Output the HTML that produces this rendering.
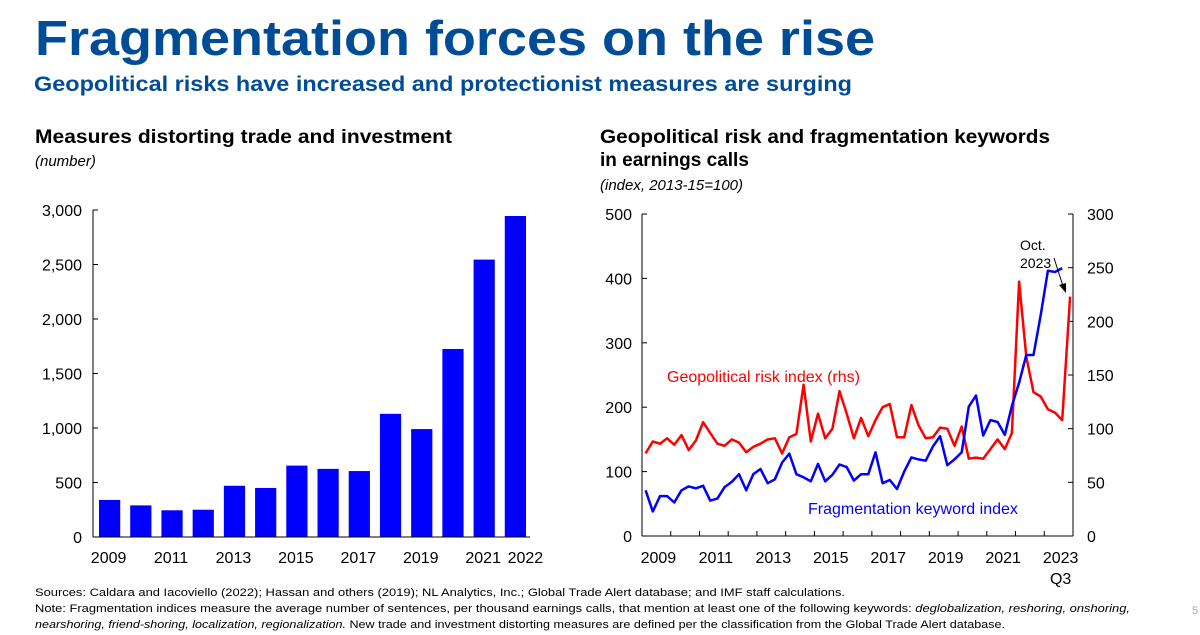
<!DOCTYPE html>
<html><head><meta charset="utf-8"><style>
html,body{margin:0;padding:0;background:#fff;width:1200px;height:635px;overflow:hidden}
svg{display:block;font-family:"Liberation Sans",Arial,sans-serif}
</style></head><body>
<svg id="s" width="1200" height="635" viewBox="0 0 1200 635" xmlns="http://www.w3.org/2000/svg">
<text x="35" y="55" font-size="49" font-weight="bold" fill="#004c97" textLength="840" lengthAdjust="spacingAndGlyphs">Fragmentation forces on the rise</text>
<text x="34" y="91" font-size="21" font-weight="bold" fill="#004c97" textLength="818" lengthAdjust="spacingAndGlyphs">Geopolitical risks have increased and protectionist measures are surging</text>
<text x="35" y="143" font-size="19" font-weight="bold" fill="#000" textLength="417" lengthAdjust="spacingAndGlyphs">Measures distorting trade and investment</text>
<text x="35" y="166" font-size="15" font-style="italic" fill="#000">(number)</text>
<text x="600" y="143" font-size="19" font-weight="bold" fill="#000" textLength="450" lengthAdjust="spacingAndGlyphs">Geopolitical risk and fragmentation keywords</text>
<text x="600" y="166" font-size="19" font-weight="bold" fill="#000">in earnings calls</text>
<text x="600" y="190" font-size="15" font-style="italic" fill="#000">(index, 2013-15=100)</text>
<g id="left"></g>
<g id="right"></g>
<text x="35" y="596" font-size="11" fill="#000" textLength="810" lengthAdjust="spacingAndGlyphs">Sources: Caldara and Iacoviello (2022); Hassan and others (2019); NL Analytics, Inc.; Global Trade Alert database; and IMF staff calculations.</text>
<text x="35" y="612" font-size="11" fill="#000" textLength="1095" lengthAdjust="spacingAndGlyphs">Note: Fragmentation indices measure the average number of sentences, per thousand earnings calls, that mention at least one of the following keywords: <tspan font-style="italic">deglobalization, reshoring, onshoring,</tspan></text>
<text x="35" y="628" font-size="11" fill="#000" textLength="970" lengthAdjust="spacingAndGlyphs"><tspan font-style="italic">nearshoring, friend-shoring, localization, regionalization.</tspan> New trade and investment distorting measures are defined per the classification from the Global Trade Alert database.</text>
<text x="1192" y="614" font-size="11" fill="#aaa">5</text>
</svg>
<script>
const NS="http://www.w3.org/2000/svg";
function mk(p,tag,at,txt){const e=document.createElementNS(NS,tag);for(const k in at)e.setAttribute(k,at[k]);if(txt!==undefined)e.textContent=txt;p.appendChild(e);return e;}

// Left chart data
const barYears=["2009","2010","2011","2012","2013","2014","2015","2016","2017","2018","2019","2020","2021","2022"];
const barValues=[340,290,245,250,470,450,655,625,605,1130,990,1725,2545,2945];
const leftTicks=[0,500,1000,1500,2000,2500,3000];
const leftTickLabels=["0","500","1,000","1,500","2,000","2,500","3,000"];
const leftXLabels=["2009","","2011","","2013","","2015","","2017","","2019","","2021","2022"];

// Right chart data (quarterly, 2009Q1 onward)
const fragValues=[71,38,62,62,52,71,77,74,78,55,58,76,84,96,71,96,104,82,88,114,128,96,91,85,112,85,95,111,107,86,96,96,130,82,87,73,100,122,119,117,139,155,110,119,130,201,218,156,180,177,157,202,238,281,281,343,412,410,416];
const geoValues=[77,88,86,91,85,94,80,89,106,96,86,84,90,87,78,83,86,90,91,77,92,95,141,88,114,91,100,135,114,91,110,93,108,120,123,92,92,122,103,91,92,101,100,84,102,72,73,72,81,90,81,96,237,167,134,130,118,115,108,223];
const geoLastQuarter=59.1; // Oct 2023 position in quarter index
const rightTicksL=[0,100,200,300,400,500];
const rightTicksR=[0,50,100,150,200,250,300];
const rightYearLabels=["2009","2011","2013","2015","2017","2019","2021","2023"];

// Left chart
(function(){
 const g=document.getElementById('left');
 const x0=93,x1=530,y0=537,y1=210,max=3000;
 const slot=(x1-x0)/barValues.length;
 const y=v=>y0-(v/max)*(y0-y1);
 barValues.forEach((v,i)=>{
  const r=mk(g,'rect',{x:x0+i*slot+6,y:y(v),width:slot-10,height:y0-y(v),fill:'#0000ff'});
  
  
 });
 mk(g,'line',{x1:x0,y1:y1,x2:x0,y2:y0,stroke:'#000','stroke-width':1});
 mk(g,'line',{x1:x0,y1:y0,x2:x1,y2:y0,stroke:'#000','stroke-width':1});
 leftTicks.forEach((t,i)=>{
  mk(g,'line',{x1:x0,y1:y(t),x2:x0+5,y2:y(t),stroke:'#000'});
  const tx=mk(g,'text',{x:82,y:y(t)+6,'font-size':16,'text-anchor':'end',fill:'#000'},leftTickLabels[i]);
  
  
 });
 const n=leftXLabels.length;
 leftXLabels.forEach((l,i)=>{
  if(!l)return;
  let cx=x0+(i+0.5)*slot;
  if(i===n-1)cx+=11;
  const tx=mk(g,'text',{x:cx,y:563,'font-size':16,'text-anchor':'middle',fill:'#000'},l);
  
  
 });
})();

// Right chart
(function(){
 const g=document.getElementById('right');
 const x0=642,x1=1073,y0=536,y1=214;
 const qw=(x1-x0)/60;
 const xq=q=>x0+(q+0.5)*qw;
 const yl=v=>y0-(v/500)*(y0-y1);
 const yr=v=>y0-(v/300)*(y0-y1);
 mk(g,'line',{x1:x0,y1:y1,x2:x0,y2:y0,stroke:'#000'});
 mk(g,'line',{x1:x1,y1:y1,x2:x1,y2:y0,stroke:'#000'});
 mk(g,'line',{x1:x0,y1:y0,x2:x1,y2:y0,stroke:'#000'});
 for(let k=0;k<=15;k++){const xx=x0+k*qw*4;mk(g,'line',{x1:xx,y1:y0,x2:xx,y2:y0-5,stroke:'#000'});}
 rightTicksL.forEach(t=>{
  mk(g,'line',{x1:x0,y1:yl(t),x2:x0+5,y2:yl(t),stroke:'#000'});
  const tx=mk(g,'text',{x:632,y:yl(t)+6,'font-size':16,'text-anchor':'end',fill:'#000'},String(t));
  
  
 });
 rightTicksR.forEach(t=>{
  mk(g,'line',{x1:x1,y1:yr(t),x2:x1-5,y2:yr(t),stroke:'#000'});
  const tx=mk(g,'text',{x:1087,y:yr(t)+6,'font-size':16,fill:'#000'},String(t));
  
  
 });
 rightYearLabels.forEach(l=>{
  const yi=parseInt(l)-2009;
  const tx=mk(g,'text',{x:x0+(yi+0.5)*qw*4+2,y:563,'font-size':16,'text-anchor':'middle',fill:'#000'},l);
  
  
 });
 const q3=mk(g,'text',{x:x0+14.5*qw*4+2,y:584,'font-size':16,'text-anchor':'middle',fill:'#000'},'Q3');
 
 
 const gp=geoValues.map((v,i)=>{const q=(i===geoValues.length-1)?geoLastQuarter:i;return xq(q).toFixed(1)+','+yr(v).toFixed(1);}).join(' ');
 const gl=mk(g,'polyline',{points:gp,fill:'none',stroke:'#ff0000','stroke-width':2.5,'stroke-linejoin':'round'});
 
 
 const fp=fragValues.map((v,i)=>xq(i).toFixed(1)+','+yl(v).toFixed(1)).join(' ');
 const fl=mk(g,'polyline',{points:fp,fill:'none',stroke:'#0000ff','stroke-width':2.5,'stroke-linejoin':'round'});
 
 
 const l1=mk(g,'text',{x:667,y:382,'font-size':16,fill:'#ff0000'},'Geopolitical risk index (rhs)');
 
 
 const l2=mk(g,'text',{x:808,y:514,'font-size':16,fill:'#0000ff'},'Fragmentation keyword index');
 
 
 const a1=mk(g,'text',{x:1020,y:250,'font-size':14,fill:'#000'},'Oct.');
 
 
 const a2=mk(g,'text',{x:1020,y:268,'font-size':14,fill:'#000'},'2023');
 
 
 mk(g,'line',{x1:1054,y1:258,x2:1063,y2:286,stroke:'#000','stroke-width':1});
 mk(g,'polygon',{points:'1066,293 1059,285 1066,283',fill:'#000'});
})();
</script>
</body></html>
